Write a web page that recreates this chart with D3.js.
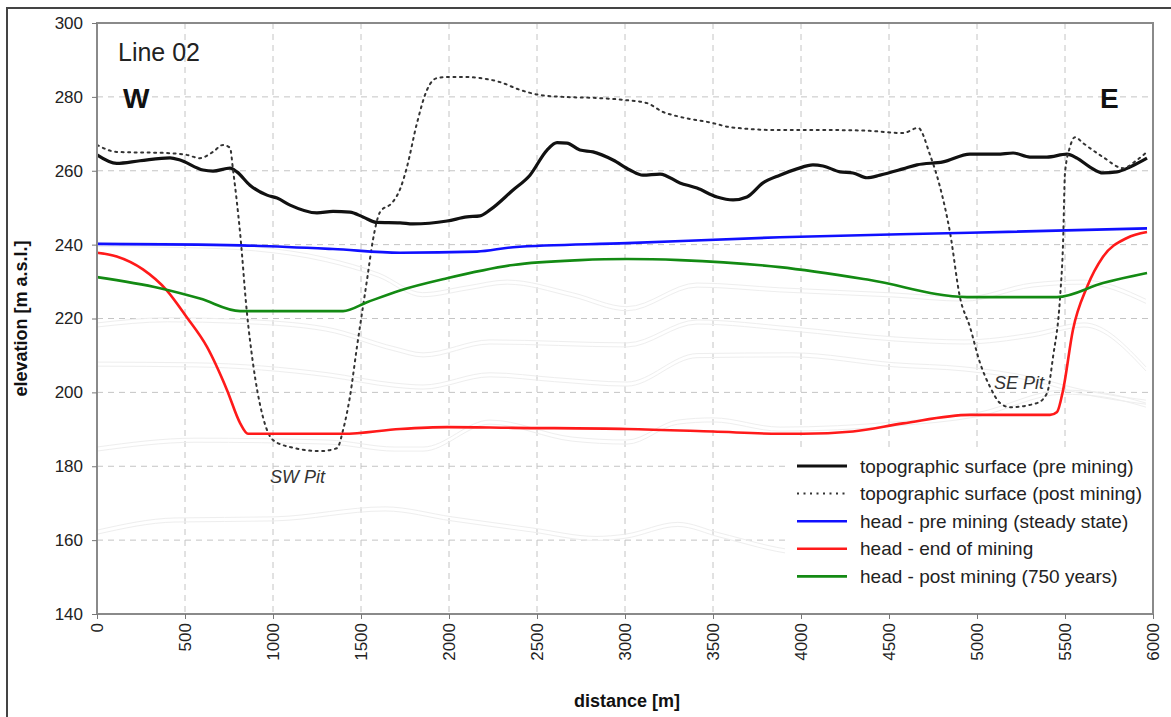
<!DOCTYPE html>
<html lang="en">
<head>
<meta charset="utf-8">
<title>Line 02 cross-section</title>
<style>
  body { margin: 0; background: #fff; }
  svg { display: block; font-family: "Liberation Sans", Arial, sans-serif; }
  .grid line { stroke: #c4c4c4; stroke-dasharray: 6,5; }
  .axis path { display: none; }
  .axis line { stroke: #777; }
  .axis text { fill: #222; font-size: 17px; }
</style>
</head>
<body>
<script src="https://cdnjs.cloudflare.com/ajax/libs/d3/7.8.5/d3.min.js"></script>
<script>
// data: [distance (m), elevation (m a.s.l.)]
const topoPre = [[0,264.3],[112,262.0],[244,262.7],[415,263.5],[472,262.9],[602,260.2],[659,259.9],[756,260.7],[795,259.7],[869,256.1],[966,253.4],[1023,252.6],[1097,250.7],[1250,248.6],[1341,249.0],[1437,248.8],[1511,247.5],[1591,246.0],[1722,245.9],[1795,245.6],[1989,246.4],[2102,247.5],[2176,247.8],[2233,249.4],[2364,254.8],[2460,258.8],[2557,265.6],[2614,267.6],[2670,267.5],[2744,265.6],[2818,265.1],[2932,262.9],[3028,260.2],[3102,258.8],[3199,259.1],[3312,256.7],[3409,255.3],[3523,252.9],[3614,252.1],[3693,252.9],[3784,256.7],[3880,258.8],[3977,260.5],[4068,261.6],[4125,261.3],[4222,259.7],[4295,259.4],[4375,258.1],[4449,258.8],[4580,260.5],[4659,261.6],[4807,262.4],[4960,264.5],[5114,264.5],[5205,264.8],[5301,263.7],[5397,263.7],[5511,264.5],[5568,263.4],[5642,261.0],[5716,259.4],[5795,259.7],[5869,261.0],[5966,263.4]];

const topoPost = [[0,267.0],[112,265.1],[395,264.8],[509,264.3],[585,263.4],[659,265.1],[716,267.0],[756,266.2],[773,260.2],[813,243.2],[852,221.5],[886,208.0],[943,193.3],[1000,187.1],[1097,185.2],[1267,184.1],[1364,184.9],[1398,189.8],[1437,198.8],[1477,212.3],[1534,230.4],[1568,241.3],[1608,248.8],[1680,251.5],[1722,255.0],[1761,261.0],[1818,272.9],[1875,281.9],[1932,285.1],[1989,285.4],[2080,285.4],[2176,285.1],[2290,284.0],[2403,281.9],[2517,280.5],[2648,280.0],[2841,279.7],[2989,279.2],[3125,278.3],[3216,275.9],[3312,274.6],[3500,272.9],[3597,271.8],[3880,271.0],[4205,271.0],[4392,270.8],[4580,270.2],[4665,271.6],[4733,264.3],[4790,255.6],[4847,243.2],[4903,225.8],[4960,217.7],[5017,208.0],[5074,201.5],[5131,197.1],[5188,196.0],[5341,197.1],[5398,199.8],[5432,209.6],[5472,225.8],[5489,240.4],[5500,259.4],[5528,266.4],[5557,269.1],[5602,267.5],[5716,263.7],[5830,260.7],[5909,262.9],[5966,265.1]];

const headPre = [[0,240.2],[813,239.8],[1341,238.8],[1722,237.8],[2159,238.1],[2364,239.3],[3011,240.4],[3880,242.0],[4960,243.2],[5966,244.4]];

const headEnd = [[0,237.8],[112,236.8],[261,233.3],[395,227.7],[509,220.4],[625,212.3],[739,200.6],[813,191.7],[858,188.8],[1398,188.8],[1722,190.1],[1989,190.6],[2364,190.4],[3011,190.1],[3500,189.4],[3880,188.8],[4011,188.8],[4295,189.4],[4580,191.6],[4960,193.9],[5415,193.9],[5455,194.7],[5489,200.6],[5545,216.9],[5625,228.5],[5716,236.7],[5852,241.8],[5966,243.4]];

const headPost = [[0,231.2],[358,228.2],[585,225.4],[813,222.0],[1398,222.0],[1534,224.4],[1722,227.6],[1989,230.9],[2364,234.5],[2744,235.8],[3011,236.1],[3312,235.8],[3880,233.9],[4392,230.4],[4943,225.8],[5455,225.8],[5716,229.6],[5966,232.3]];

// faint geological layer boundaries (drawn as close pairs)
const layer1 = [[0,240.6],[500,240.3],[900,239.4],[1300,236.5],[1600,232.3],[1850,227.0],[2100,228.8],[2330,230.4],[2700,227.0],[3011,223.2],[3409,229.6],[3880,228.3],[4534,226.9],[4926,225.8],[5313,229.6],[5608,230.4],[5960,225.2]];
const layer2 = [[0,218.8],[400,220.2],[800,219.8],[1300,217.7],[1693,212.3],[1852,210.7],[2233,214.2],[3011,213.4],[3409,219.6],[3949,217.7],[4534,215.0],[4926,214.2],[5313,216.1],[5608,218.8],[5960,206.9]];
const layer3 = [[0,208.2],[557,208.0],[1313,205.3],[1693,202.5],[1852,202.0],[2233,205.3],[2600,204.0],[3011,202.8],[3409,210.5],[3949,210.7],[4534,208.0],[4926,206.9],[5313,204.2],[5608,200.6],[5960,197.9]];
const layer4 = [[0,185.2],[557,187.6],[1313,187.1],[1693,185.2],[1852,185.2],[2233,192.5],[2700,187.9],[3011,187.1],[3300,192.5],[3500,193.1],[3880,190.6],[4534,192.0],[5000,194.5],[5489,200.6],[5700,200.0],[5960,197.1]];
const layer5 = [[0,162.7],[443,166.0],[1006,166.3],[1636,169.0],[2017,166.3],[2472,163.3],[2835,161.0],[3000,161.6],[3300,164.8],[3540,161.9],[3966,157.3],[4300,156.5]];

const xTicks = d3.range(0, 6001, 500);
const yTicks = d3.range(140, 301, 20);

const series = [
  { name: "topographic surface (pre mining)", data: topoPre, color: "#111", width: 3.2, dash: null },
  { name: "topographic surface (post mining)", data: topoPost, color: "#333", width: 2, dash: "2,4.5" },
  { name: "head - pre mining (steady state)", data: headPre, color: "#1010ff", width: 2.6, dash: null },
  { name: "head - end of mining", data: headEnd, color: "#ff1a1a", width: 2.6, dash: null },
  { name: "head - post mining (750 years)", data: headPost, color: "#138a13", width: 2.6, dash: null }
];

const W = 1171, H = 717;
const margin = { top: 23, right: 18, bottom: 103, left: 97 },
      width = W - margin.left - margin.right,
      height = H - margin.top - margin.bottom;

const svg = d3.select("body").append("svg")
  .attr("width", W)
  .attr("height", H);

// outer frame
svg.append("rect")
  .attr("x", 7).attr("y", 8)
  .attr("width", 1180).attr("height", 730)
  .attr("fill", "none").attr("stroke", "#444").attr("stroke-width", 2);

const g = svg.append("g")
  .attr("transform", `translate(${margin.left},${margin.top})`);

const x = d3.scaleLinear().domain([0, 6000]).range([0, width]);
const y = d3.scaleLinear().domain([140, 300]).range([height, 0]);

// grid
g.append("g").attr("class", "grid")
  .selectAll("line").data(xTicks.slice(1, -1)).join("line")
  .attr("x1", d => x(d)).attr("x2", d => x(d))
  .attr("y1", 0).attr("y2", height);
g.append("g").attr("class", "grid")
  .selectAll("line").data(yTicks.slice(1, -1)).join("line")
  .attr("x1", 0).attr("x2", width)
  .attr("y1", d => y(d)).attr("y2", d => y(d));

const line = d3.line()
  .x(d => x(d[0]))
  .y(d => y(d[1]))
  .curve(d3.curveMonotoneX);

// faint layers
[layer1, layer2, layer3, layer4, layer5].forEach(l => {
  [0, -1.1].forEach(off => {
    g.append("path")
      .datum(l.map(p => [p[0], p[1] + off]))
      .attr("d", line)
      .attr("fill", "none")
      .attr("stroke", "#eeeeee")
      .attr("stroke-width", 1);
  });
});

// series
series.forEach(s => {
  g.append("path")
    .datum(s.data)
    .attr("d", line)
    .attr("fill", "none")
    .attr("stroke", s.color)
    .attr("stroke-width", s.width)
    .attr("stroke-linecap", s.dash ? "round" : "butt")
    .attr("stroke-linejoin", "round")
    .attr("stroke-dasharray", s.dash);
});

// plot border
g.append("rect")
  .attr("width", width).attr("height", height)
  .attr("fill", "none").attr("stroke", "#8a8a8a").attr("stroke-width", 2);

// axes
g.append("g").attr("class", "axis")
  .call(d3.axisLeft(y).tickValues(yTicks).tickSize(5).tickPadding(9));

g.append("g").attr("class", "axis")
  .attr("transform", `translate(0,${height})`)
  .call(d3.axisBottom(x).tickValues(xTicks).tickSize(5).tickFormat(d3.format("d")))
  .selectAll("text")
  .attr("text-anchor", "end")
  .attr("transform", "rotate(-90)")
  .attr("x", -9)
  .attr("y", 0)
  .attr("dy", "0.35em");

g.append("text")
  .attr("x", width / 2 + 2).attr("y", height + 93)
  .attr("text-anchor", "middle")
  .style("font-size", "18px").style("font-weight", "bold").attr("fill", "#111")
  .text("distance [m]");

g.append("text")
  .attr("transform", "rotate(-90)")
  .attr("x", -height / 2).attr("y", -70)
  .attr("text-anchor", "middle")
  .style("font-size", "18px").style("font-weight", "bold").attr("fill", "#111")
  .text("elevation [m a.s.l.]");

// annotations
g.append("text").attr("x", 21).attr("y", 38)
  .style("font-size", "25px").attr("fill", "#222").text("Line 02");
g.append("text").attr("x", 26).attr("y", 85)
  .style("font-size", "28px").style("font-weight", "bold").attr("fill", "#111").text("W");
g.append("text").attr("x", 1003).attr("y", 85)
  .style("font-size", "28px").style("font-weight", "bold").attr("fill", "#111").text("E");
g.append("text").attr("x", 173).attr("y", 460)
  .style("font-size", "18px").style("font-style", "italic").attr("fill", "#333").text("SW Pit");
g.append("text").attr("x", 897).attr("y", 366)
  .style("font-size", "18px").style("font-style", "italic").attr("fill", "#333").text("SE Pit");

// legend
const legend = g.append("g").attr("transform", "translate(688,428)");
legend.append("rect")
  .attr("x", 0).attr("y", 0)
  .attr("width", 366).attr("height", 162)
  .attr("fill", "#fff");
const rows = legend.selectAll("g.row").data(series).join("g")
  .attr("class", "row")
  .attr("transform", (d, i) => `translate(0,${15 + i * 27.6})`);
rows.append("line")
  .attr("x1", 12).attr("x2", 62)
  .attr("stroke", d => d.color)
  .attr("stroke-width", d => d.width)
  .attr("stroke-dasharray", d => d.dash);
rows.append("text")
  .attr("x", 75).attr("dy", "0.35em")
  .style("font-size", "19px").attr("fill", "#222")
  .text(d => d.name);
</script>
</body>
</html>
